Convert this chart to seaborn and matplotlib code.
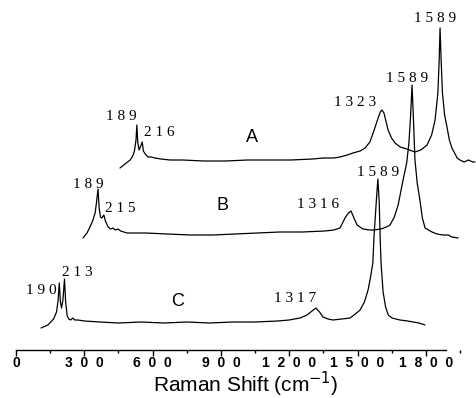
import pandas as pd
import matplotlib
matplotlib.use('Agg')
import matplotlib.pyplot as plt
import seaborn as sns
from matplotlib.ticker import MultipleLocator, FuncFormatter

# Spectra: Raman shift (cm-1) and intensity above each baseline
a_shift = [111, 140, 158, 170, 178, 185, 189, 193, 199, 205, 214, 219, 228, 241, 255, 272, 300, 342, 400, 500,
           600, 700, 800, 900, 1000, 1050, 1100, 1127, 1160, 1187, 1220, 1243, 1265, 1280, 1300, 1313, 1321, 1330,
           1340, 1349, 1365, 1381, 1405, 1436, 1473, 1500, 1529, 1550, 1566, 1579, 1585, 1589, 1594, 1600, 1610,
           1621, 1632, 1644, 1668, 1681, 1700, 1720, 1740, 1750]
a_int = [-8, -3, 0, 4, 9, 20, 35, 18, 10, 13, 18, 9, 6, 3, 3, 2, 1, 0, 0, -1,
         -1, 0, 0, 0, 1, 2, 2, 3, 5, 7, 9, 12, 18, 27, 40, 48, 50, 47,
         38, 30, 22, 17, 13, 11, 8, 10, 15, 25, 40, 67, 100, 132, 100, 67, 45,
         33, 20, 12, 2, 0, -2, 0, -2, -2]

b_shift = [122, 140, 153, 165, 176, 182, 189, 194, 200, 206, 215, 222, 234, 245, 256, 266, 278, 290, 318, 400,
           500, 600, 700, 800, 900, 1000, 1100, 1200, 1240, 1268, 1290, 1305, 1317, 1330, 1344, 1370, 1400, 1420,
           1450, 1475, 1491, 1510, 1527, 1549, 1565, 1575, 1582, 1589, 1595, 1602, 1612, 1624, 1635, 1647, 1678,
           1700, 1727, 1750, 1767, 1794]
b_int = [-5, 0, 6, 12, 20, 30, 44, 25, 16, 15, 18, 12, 6, 4, 5, 3, 4, 2, 0, 0,
         -1, -2, -2, -1, 0, 1, 1, 2, 3, 5, 15, 20, 22, 15, 8, 4, 3, 3,
         4, 6, 8, 16, 28, 53, 70, 90, 115, 148, 115, 73, 50, 33, 15, 5, 1,
         -1, -2, -2, -4, -5]

c_shift = [110, 140, 165, 178, 185, 190, 195, 200, 206, 213, 218, 225, 232, 240, 250, 258, 272, 300, 369, 450,
           550, 650, 750, 850, 950, 1050, 1150, 1200, 1247, 1278, 1300, 1317, 1333, 1348, 1370, 1392, 1430, 1467,
           1490, 1511, 1530, 1546, 1557, 1567, 1572, 1582, 1589, 1595, 1599, 1603, 1612, 1623, 1635, 1651, 1686,
           1720, 1744, 1770, 1796]
c_int = [-6, -3, 3, 10, 22, 39, 20, 14, 22, 43, 20, 6, 3, 2, 4, 2, 2, 1, 0, -1,
         0, -1, 0, -1, 0, 0, 1, 2, 4, 7, 11, 14, 10, 5, 3, 2, 3, 4,
         8, 12, 20, 32, 45, 59, 85, 120, 143, 120, 85, 59, 30, 15, 7, 4, 2,
         1, 0, -1, -3]

# peak annotations (label, shift, height)
a_peaks = ["189", "216", "1323", "1589"]
a_peak_x = [116, 291, 1197, 1566]
a_peak_y = [43, 27, 57, 142]
b_peaks = ["189", "215", "1316", "1589"]
b_peak_x = [144, 287, 1170, 1567]
b_peak_y = [49, 25, 28, 155]
c_peaks = ["190", "213", "1317", "1589"]
c_peak_x = [110, 268, 1225, 1590]
c_peak_y = [32, 50, 24, 149]

sample_names = ["A", "B", "C"]
name_x = [720, 746, 711]
name_y = [23, 27, 20]

tick_values = [0, 300, 600, 900, 1200, 1500, 1800]

# waterfall offsets used in the figure: (x shift, x scale, y offset)
offsets = {"A": (351, 0.951, 190), "B": (174, 0.985, 117), "C": (0, 1.0, 28)}

spectra = {"A": (a_shift, a_int), "B": (b_shift, b_int), "C": (c_shift, c_int)}
peaks = {"A": (a_peaks, a_peak_x, a_peak_y), "B": (b_peaks, b_peak_x, b_peak_y),
         "C": (c_peaks, c_peak_x, c_peak_y)}

frames = []
for name, (xs, ys) in spectra.items():
    dx, sx, dy = offsets[name]
    frames.append(pd.DataFrame({'sample': name,
                                'x': [dx + sx * v for v in xs],
                                'y': [dy + v for v in ys]}))
df = pd.concat(frames, ignore_index=True)

sns.set_theme(style='white')
plt.rcParams['font.family'] = ['Liberation Sans', 'DejaVu Sans']

fig = plt.figure(figsize=(4.76, 3.98), dpi=100)
ax = fig.add_axes([16 / 476, 48 / 398, 460 / 476, 350 / 398])

sns.lineplot(data=df, x='x', y='y', units='sample', estimator=None, sort=False,
             color='black', linewidth=0.9, ax=ax)

for name, (labels, px, py) in peaks.items():
    dx, sx, dy = offsets[name]
    for lab, xv, yv in zip(labels, px, py):
        ax.text(dx + sx * xv, dy + yv, " ".join(lab), ha='center', va='center',
                fontsize=11, family='Liberation Serif', color='black')

for name, xv, yv in zip(sample_names, name_x, name_y):
    dx, sx, dy = offsets[name]
    ax.text(dx + sx * xv, dy + yv, name, ha='center', va='center', fontsize=13, color='black')

ax.set_xlim(0, 2020)
ax.set_ylim(0, 350)
for side in ['top', 'right', 'left']:
    ax.spines[side].set_visible(False)
ax.spines['bottom'].set_bounds(0, 1890)
ax.spines['bottom'].set_color('black')
ax.spines['bottom'].set_linewidth(1.0)
ax.set_yticks([])
ax.set_xticks(tick_values)
ax.xaxis.set_minor_locator(MultipleLocator(150))
ax.xaxis.set_major_formatter(FuncFormatter(lambda v, p: "  ".join(str(int(v)))))
ax.tick_params(axis='x', which='major', direction='out', length=4, width=1, pad=0.5,
               labelsize=10, bottom=True, colors='black')
ax.tick_params(axis='x', which='minor', direction='out', length=2.5, width=1, bottom=True, colors='black')
for t in ax.get_xticklabels():
    t.set_fontweight('bold')
ax.set_xlabel('Raman Shift (cm$^{-1}$)', fontsize=15, labelpad=0, color='black')
ax.set_ylabel('')
legend = ax.get_legend()
if legend is not None:
    legend.remove()

fig.savefig('out.png', dpi=100)
